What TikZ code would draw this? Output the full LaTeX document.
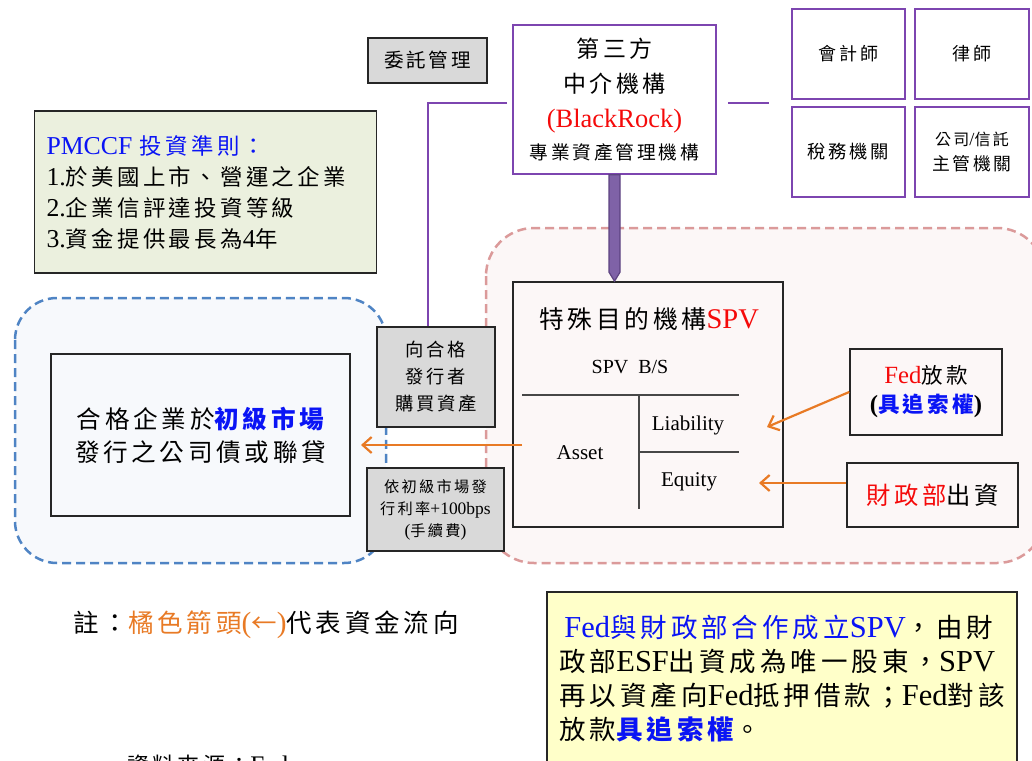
\documentclass[tikz,border=0pt]{standalone}
\usepackage{fontspec}
\usepackage{xcolor}
\usepackage{tikz}
\usetikzlibrary{arrows.meta,calc}
\setmainfont{Liberation Serif}
\newfontfamily\cjk{Noto Sans CJK TC}[LetterSpace=15]
\newfontfamily\latf{Liberation Serif}[Scale=1.15]
\newcommand\lat[1]{{\latf#1}}
\definecolor{INK}{HTML}{262626}
\definecolor{PURP}{HTML}{7D45B0}
\definecolor{FATFILL}{HTML}{7F62A7}
\definecolor{FATLINE}{HTML}{5D4381}
\definecolor{ORNG}{HTML}{E87A25}
\definecolor{GRAYBOX}{HTML}{D9D9D9}
\definecolor{SAGE}{HTML}{EBF0DE}
\definecolor{BLUEDASH}{HTML}{4F84C4}
\definecolor{BLUEBG}{HTML}{F7F9FC}
\definecolor{PINKDASH}{HTML}{DB9A9A}
\definecolor{PINKBG}{HTML}{FCF7F7}
\definecolor{NOTEBG}{HTML}{FFFFC9}
\definecolor{TXTBLUE}{HTML}{0A14F5}
\definecolor{TXTRED}{HTML}{F50A0A}

\begin{document}
\begin{tikzpicture}[
    x=1pt, y=-1pt,
    box/.style={draw=INK, line width=1.6pt, inner sep=0pt, align=center, text=black},
    graybox/.style={box, fill=GRAYBOX},
    purpbox/.style={draw=PURP, line width=1.6pt, fill=white, inner sep=0pt, align=center},
    bluezone/.style={draw=BLUEDASH, fill=BLUEBG, line width=2.5pt, rounded corners=42pt, dash pattern=on 9pt off 5pt},
    pinkzone/.style={draw=PINKDASH, fill=PINKBG, line width=2.5pt, rounded corners=48pt, dash pattern=on 9pt off 5pt},
    purpline/.style={draw=PURP, line width=2pt},
    fat/.style={fill=FATFILL, draw=FATLINE, line width=1.2pt},
    money/.style={draw=ORNG, line width=2.2pt, -{Straight Barb[length=9pt,width=16pt]}},
    tline/.style={draw=INK!85, line width=1.5pt},
    bstext/.style={inner sep=0pt, font=\fontsize{21}{24}\rmfamily},
  ]
  \useasboundingbox (0,0) rectangle (1032,760);

  % zones
  \draw[bluezone] (15,298) rectangle (386,563);
  \draw[pinkzone] (486,228) rectangle (1045,563);

  % manager and advisers
  \node[graybox, minimum width=119pt, minimum height=45pt, font=\fontsize{19.5}{24}\cjk] (mgmt) at (427.5,60.5) {委託管理};
  \node[purpbox, minimum width=203pt, minimum height=149pt, font=\fontsize{23}{35}\cjk] (tp) at (614.5,99.5)
    {第三方\\中介機構\\{\color{TXTRED}\lat{(BlackRock)}}\\[-3pt]{\fontsize{18.7}{30}\selectfont 專業資產管理機構}};
  \node[purpbox, minimum width=113pt, minimum height=90pt, font=\fontsize{18}{24}\cjk] (acc) at (848.5,54) {會計師};
  \node[purpbox, minimum width=114pt, minimum height=90pt, font=\fontsize{18}{24}\cjk] (law) at (972,54) {律師};
  \node[purpbox, minimum width=113pt, minimum height=90pt, font=\fontsize{18.3}{24}\cjk] (tax) at (848.5,152) {稅務機關};
  \node[purpbox, minimum width=114pt, minimum height=90pt, font=\fontsize{17.8}{25}\cjk] (reg) at (972,152)
    {{\fontsize{16}{25}\selectfont 公司\lat{/}信託}\\主管機關};

  % investment rules
  \node[box, fill=SAGE, text width=318pt, inner xsep=12pt, minimum height=162pt, align=left,
        font=\fontsize{22.4}{31}\cjk] (rules) at (205.5,192)
    {{\color{TXTBLUE}\lat{PMCCF} 投資準則：}\\
     \lat{1.}於美國上市、營運之企業\\
     \lat{2.}企業信評達投資等級\\
     \lat{3.}資金提供最長為\lat{4}年};

  % primary market side
  \node[box, fill=BLUEBG, minimum width=299pt, minimum height=162pt, font=\fontsize{24.6}{33}\cjk] (issue) at (200.5,435)
    {合格企業於{\bfseries\color{TXTBLUE}初級市場}\\發行之公司債或聯貸};
  \node[graybox, minimum width=118pt, minimum height=100pt, font=\fontsize{18.3}{27}\cjk] (buy) at (436,377)
    {向合格\\發行者\\購買資產};
  \node[graybox, minimum width=137pt, minimum height=83pt, font=\fontsize{15.2}{22}\cjk] (rate) at (435.5,509.5)
    {依初級市場發\\行利率\lat{+100bps}\\\lat{(}手續費\lat{)}};

  % SPV balance sheet
  \node[box, fill=PINKBG, minimum width=270pt, minimum height=245pt] (spv) at (648,404.5) {};
  \node[inner sep=0pt, font=\fontsize{24.8}{30}\cjk] (spvtitle) at (649,319) {特殊目的機構{\color{TXTRED}\lat{SPV}}};
  \node[inner sep=0pt, font=\fontsize{20}{24}\rmfamily] (bs) at (630,367) {SPV\ \ B/S};
  \draw[tline] (522,395) -- (739,395);
  \draw[tline] (639,395) -- (639,509);
  \draw[tline] (639,452) -- (739,452);
  \node[bstext] (liab) at (688,425) {Liability};
  \node[bstext] (asset) at (580,453) {Asset};
  \node[bstext] (equity) at (689,482) {Equity};

  % funding sources
  \node[box, fill=PINKBG, minimum width=152pt, minimum height=86pt, font=\fontsize{21.5}{29}\cjk] (fed) at (926,392)
    {{\color{TXTRED}\lat{Fed}}放款\\{\bfseries\lat{(}{\color{TXTBLUE}具追索權}\lat{)}}};
  \node[box, fill=PINKBG, minimum width=171pt, minimum height=64pt, font=\fontsize{24.3}{30}\cjk] (mof) at (932.5,495)
    {{\color{TXTRED}財政部}出資};

  % connectors
  \draw[purpline, shorten <=5pt] ($(tp.west)+(0,3.5)$) -| ($(buy.north)+(-8,0)$);
  \draw[purpline, shorten <=11pt, shorten >=22pt] ($(tp.east)+(0,3.5)$) -- ($(tp.east -| acc.west)+(0,3.5)$);
  \coordinate (ftop) at (tp.south);
  \coordinate (fbot) at (tp.south |- spv.north);
  \filldraw[fat] ($(ftop)+(-5.5,0)$) -- ($(fbot)+(-5.5,-9)$) -- (fbot) -- ($(fbot)+(5.5,-9)$) -- ($(ftop)+(5.5,0)$) -- cycle;

  \coordinate (assetout) at (522,445);
  \coordinate (issuein) at (361,445);
  \draw[money] (assetout) -- (issuein);
  \coordinate (liabin) at (767,427);
  \draw[money] (fed.west) -- (liabin);
  \coordinate (eqin) at (759,483);
  \draw[money] (mof.west |- eqin) -- (eqin);

  % notes
  \node[inner sep=0pt, font=\fontsize{25.5}{30}\cjk] (note) at (266,625)
    {註：{\color{ORNG}橘色箭頭\lat{(}←\lat{)}}代表資金流向};
  \node[box, fill=NOTEBG, minimum width=470pt, minimum height=173pt, align=left, font=\fontsize{26.5}{34}\cjk] (esf) at (782,678.5)
    {\hspace{5pt}{\color{TXTBLUE}\lat{Fed}與財政部合作成立\lat{SPV}}，由財\\
     政部\lat{ESF}出資成為唯一股東，\lat{SPV}\\
     再以資產向\lat{Fed}抵押借款；\lat{Fed}對該\\
     放款{\bfseries\color{TXTBLUE}具追索權}。};
  \node[inner sep=0pt, anchor=north west, font=\fontsize{22}{26}\cjk] (src) at (127,755) {資料來源：\lat{Fed}};

\end{tikzpicture}
\end{document}
